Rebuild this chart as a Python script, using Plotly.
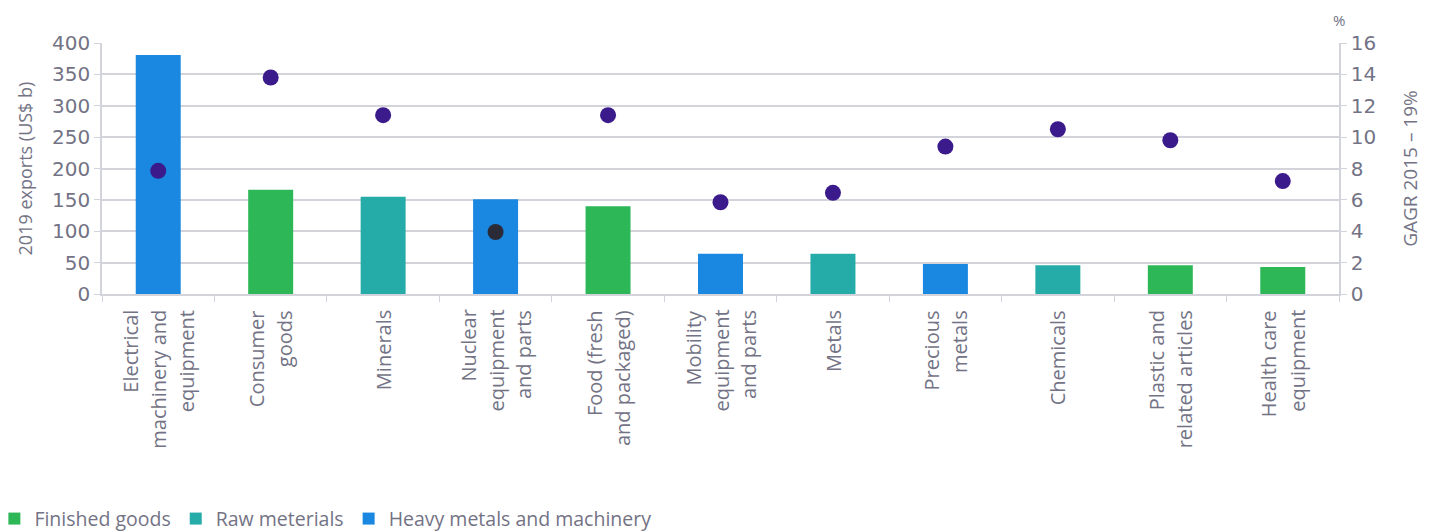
import plotly.graph_objects as go

categories = ["Electrical<br>machinery and<br>equipment", "Consumer<br>goods", "Minerals",
              "Nuclear<br>equipment<br>and parts", "Food (fresh<br>and packaged)",
              "Mobility<br>equipment<br>and parts", "Metals", "Precious<br>metals",
              "Chemicals", "Plastic and<br>related articles", "Health care<br>equipment"]
groups = ["Heavy metals and machinery", "Finished goods", "Raw meterials",
          "Heavy metals and machinery", "Finished goods", "Heavy metals and machinery",
          "Raw meterials", "Heavy metals and machinery", "Raw meterials",
          "Finished goods", "Finished goods"]
exports_2019 = [381, 166, 155, 151, 140, 64, 64, 48, 46, 46, 43]
cagr_2015_19 = [7.85, 13.8, 11.4, 3.95, 11.4, 5.85, 6.45, 9.4, 10.5, 9.8, 7.2]
group_order = ["Finished goods", "Raw meterials", "Heavy metals and machinery"]
group_colors = {"Finished goods": "#2db757", "Raw meterials": "#25aba8",
                "Heavy metals and machinery": "#1a88e0"}
dot_colors = ["#3b1a8c", "#3b1a8c", "#3b1a8c", "#2b2b38", "#3b1a8c", "#3b1a8c",
              "#3b1a8c", "#3b1a8c", "#3b1a8c", "#3b1a8c", "#3b1a8c"]

TXT = "#737385"
GRID = "#d3d3dc"
FONT = "Open Sans"

fig = go.Figure()
for g in group_order:
    xs = [c for c, gg in zip(categories, groups) if gg == g]
    ys = [v for v, gg in zip(exports_2019, groups) if gg == g]
    fig.add_trace(go.Bar(x=xs, y=ys, name=g, marker_color=group_colors[g],
                         marker_line_width=0, width=0.4))

fig.add_trace(go.Scatter(x=categories, y=cagr_2015_19, mode="markers", yaxis="y2",
                         marker=dict(size=16, color=dot_colors), showlegend=False))

# category labels as rotated lines
for c in categories:
    lines = c.split("<br>")
    n = len(lines)
    for i, ln in enumerate(lines):
        fig.add_annotation(x=c, y=0, xref="x", yref="y", text=ln, textangle=-90,
                           showarrow=False, xanchor="center", yanchor="top",
                           xshift=(i - (n - 1) / 2) * 28, yshift=-14,
                           font=dict(family=FONT, size=20, color=TXT))

fig.add_annotation(x=1.0, y=1.09, xref="paper", yref="paper", text="%",
                   showarrow=False, xanchor="center", yanchor="middle",
                   font=dict(family=FONT, size=15, color=TXT))

fig.update_layout(
    width=1427, height=524,
    margin=dict(l=94, r=96, t=35, b=238, autoexpand=False),
    plot_bgcolor="white", paper_bgcolor="white",
    barmode="overlay",
    font=dict(family=FONT, color=TXT),
    xaxis=dict(categoryorder="array", categoryarray=categories, showticklabels=False,
               range=[-0.5, len(categories) - 0.5],
               showline=True, linecolor=GRID, linewidth=2, ticks="outside",
               tickson="boundaries", ticklen=6, tickcolor=GRID, showgrid=False,
               automargin=False),
    yaxis=dict(range=[0, 400], dtick=50, showgrid=True, gridcolor=GRID, gridwidth=1.5,
               showline=True, linecolor=GRID, linewidth=1.5, ticks="outside", ticklen=6,
               tickcolor=GRID, zeroline=False, automargin=False,
               tickfont=dict(family="DejaVu Sans", size=20, color=TXT),
               title=dict(text="2019 exports (US$ b)", standoff=15,
                          font=dict(family=FONT, size=18, color=TXT))),
    yaxis2=dict(range=[0, 16], dtick=2, overlaying="y", side="right", showgrid=False,
                showline=True, linecolor=GRID, linewidth=1.5, ticks="outside", ticklen=6,
                tickcolor=GRID, zeroline=False, automargin=False,
                tickfont=dict(family="DejaVu Sans", size=20, color=TXT),
                title=dict(text="GAGR 2015 – 19%", standoff=28,
                           font=dict(family=FONT, size=19, color=TXT))),
    legend=dict(orientation="h", x=-0.087, xanchor="left", y=-0.896, yanchor="middle",
                font=dict(family=FONT, size=19.5, color=TXT), itemwidth=30,
                traceorder="normal"),
)

fig.write_html("out.html")
